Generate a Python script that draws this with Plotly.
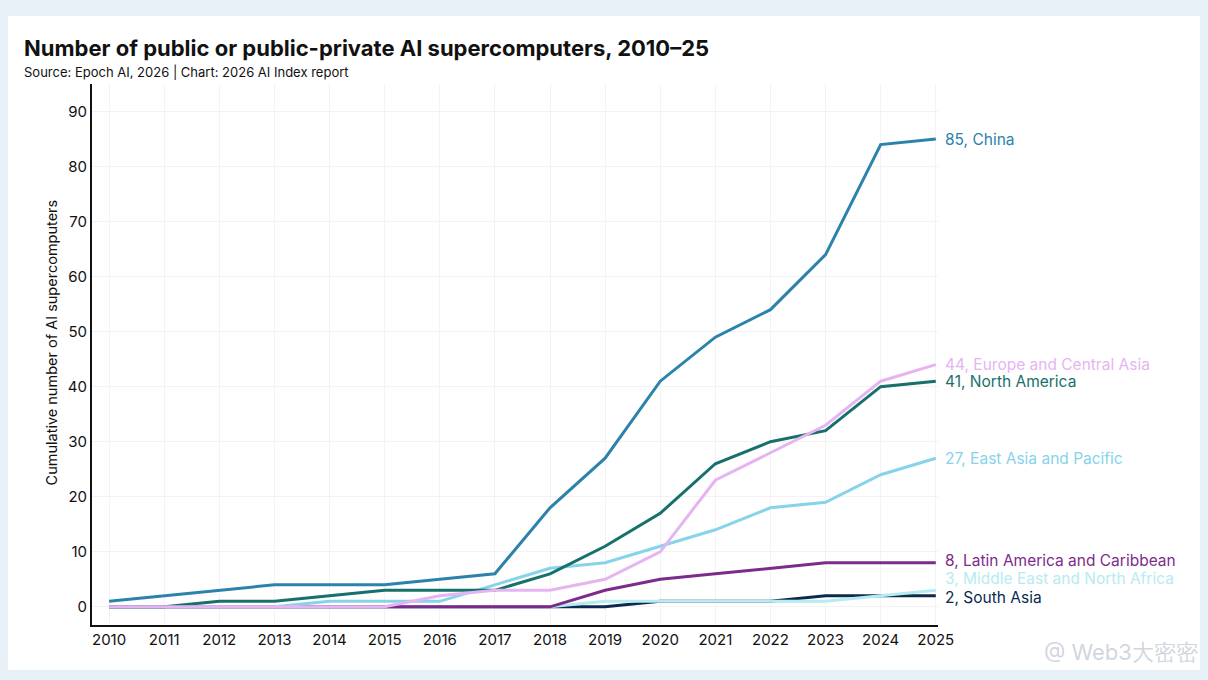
import plotly.graph_objects as go

years = list(range(2010, 2026))

regions = ["South Asia", "Middle East and North Africa", "Latin America and Caribbean",
           "East Asia and Pacific", "North America", "Europe and Central Asia", "China"]

south_asia = [0, 0, 0, 0, 0, 0, 0, 0, 0, 0, 1, 1, 1, 2, 2, 2]
middle_east = [0, 0, 0, 0, 0, 0, 0, 0, 0, 1, 1, 1, 1, 1, 2, 3]
latin_america = [0, 0, 0, 0, 0, 0, 0, 0, 0, 3, 5, 6, 7, 8, 8, 8]
east_asia = [0, 0, 0, 0, 1, 1, 1, 4, 7, 8, 11, 14, 18, 19, 24, 27]
north_america = [0, 0, 1, 1, 2, 3, 3, 3, 6, 11, 17, 26, 30, 32, 40, 41]
europe = [0, 0, 0, 0, 0, 0, 2, 3, 3, 5, 10, 23, 28, 33, 41, 44]
china = [1, 2, 3, 4, 4, 4, 5, 6, 18, 27, 41, 49, 54, 64, 84, 85]

series = [south_asia, middle_east, latin_america, east_asia, north_america, europe, china]
colors = ["#0c2a4f", "#b6ebf1", "#7d2b8b", "#86d3ea", "#17706b", "#e6b4f1", "#2b82ab"]

# small nudges so the three bottom labels don't sit on each other
label_shift = {"Latin America and Caribbean": 2, "Middle East and North Africa": 12,
               "South Asia": -2}

fig = go.Figure()

for name, vals, col in zip(regions, series, colors):
    fig.add_trace(go.Scatter(x=years, y=vals, mode="lines", name=name,
                             line=dict(color=col, width=3)))

# end-of-line labels
for name, vals, col in zip(regions, series, colors):
    fig.add_annotation(x=years[-1], y=vals[-1], text=f"{vals[-1]}, {name}",
                       xanchor="left", yanchor="middle", xshift=7,
                       yshift=label_shift.get(name, 0),
                       showarrow=False, font=dict(size=15.5, color=col))

# white card on light blue page
fig.add_shape(type="rect", xref="paper", yref="paper", layer="below",
              x0=-0.0993, x1=1.3097, y0=-0.0832, y1=1.1257,
              fillcolor="white", line=dict(width=0))

fig.add_annotation(xref="paper", yref="paper", x=-0.0827, y=1.0665,
                   text="<b>Number of public or public-private AI supercomputers, 2010–25</b>",
                   xanchor="left", yanchor="middle", showarrow=False,
                   font=dict(size=22, color="#111111"))
fig.add_annotation(xref="paper", yref="paper", x=-0.0827, y=1.022,
                   text="Source: Epoch AI, 2026 | Chart: 2026 AI Index report",
                   xanchor="left", yanchor="middle", showarrow=False,
                   font=dict(size=13, color="#111111"))
# y axis title, sits a bit above the plot's middle like the original
fig.add_annotation(xref="paper", yref="paper", x=-0.048, y=0.523,
                   text="Cumulative number of AI supercomputers", textangle=-90,
                   xanchor="center", yanchor="middle", showarrow=False,
                   font=dict(size=14.5, color="#111111"))
fig.add_annotation(xref="paper", yref="paper", x=1.31, y=-0.05,
                   text="@ Web3大密密", xanchor="right", yanchor="middle",
                   showarrow=False, font=dict(size=22, color="rgba(195,200,210,0.75)"))

fig.update_layout(
    width=1208, height=680,
    margin=dict(l=84, r=278, t=76, b=63),
    paper_bgcolor="#e8f0f8",
    plot_bgcolor="white",
    showlegend=False,
    font=dict(family="Inter, Roboto, sans-serif", color="#111111"),
)
fig.update_xaxes(range=[2009.69, 2025.04], tickvals=years, tickfont=dict(size=15),
                 showgrid=True, gridcolor="#f3f3f3", showline=True, linecolor="#111111",
                 linewidth=2, ticks="", zeroline=False)
fig.update_yaxes(range=[-3.3, 95], tickvals=list(range(0, 100, 10)), tickfont=dict(size=15),
                 showgrid=True, gridcolor="#f3f3f3", showline=True, linecolor="#111111",
                 linewidth=2, ticks="", zeroline=False)

fig.write_html("out.html", post_script="document.body.style.background='#e8f0f8';")
